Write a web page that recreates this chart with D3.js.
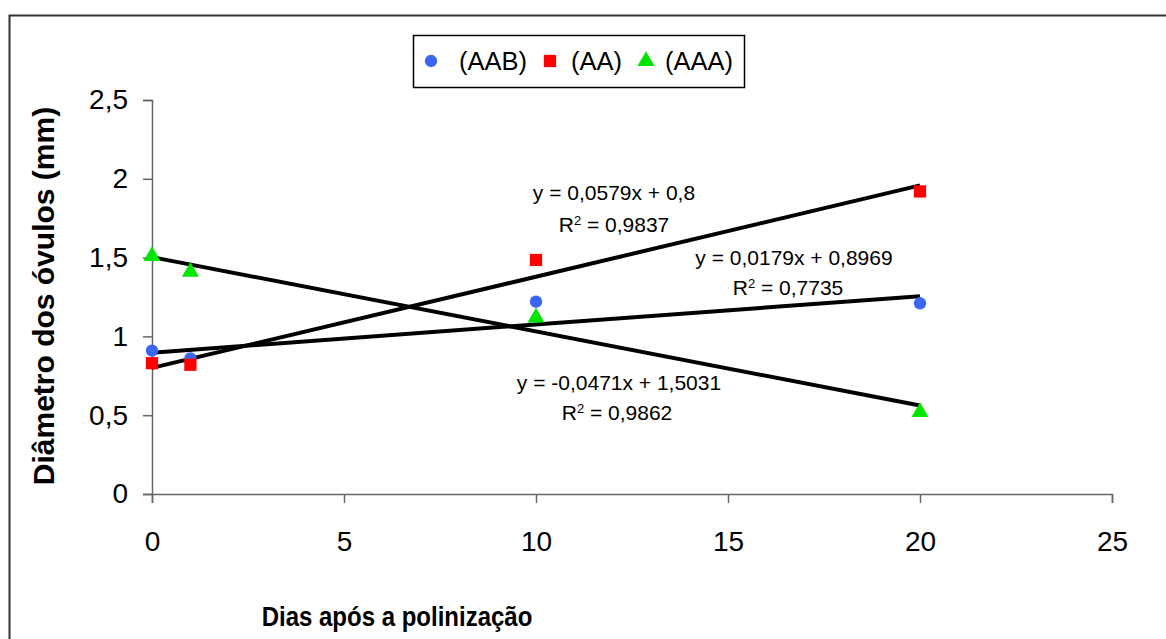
<!DOCTYPE html>
<html>
<head>
<meta charset="utf-8">
<script src="https://cdn.jsdelivr.net/npm/d3@7"></script>
<style>
  body { margin: 0; background: #fff; }
  svg { display: block; font-family: Arial, "Liberation Sans", sans-serif; }
</style>
</head>
<body>
<svg id="chart" width="1166" height="639"></svg>
<script>
"use strict";

// days after pollination
var days = [0, 1, 10, 20];
// ovule diameter (mm) per genome group
var aab = [0.91, 0.86, 1.22, 1.21];
var aa = [0.83, 0.82, 1.485, 1.92];
var aaa = [1.51, 1.41, 1.12, 0.52];

var seriesNames = ["(AAB)", "(AA)", "(AAA)"];
// linear trend: slope, intercept, r2 text
var trendSlope = [0.0179, 0.0579, -0.0471];
var trendIntercept = [0.8969, 0.8, 1.5031];
var trendEq = ["y = 0,0179x + 0,8969", "y = 0,0579x + 0,8", "y = -0,0471x + 1,5031"];
var trendR2 = ["0,7735", "0,9837", "0,9862"];

var xTicks = [0, 5, 10, 15, 20, 25];
var yTicks = [0, 0.5, 1, 1.5, 2, 2.5];

var colors = ["#3a66f0", "#ff0000", "#00e600"];
var symbols = [d3.symbolCircle, d3.symbolSquare, d3.symbolTriangle];
var symSize = [120, 150, 125];

// where each equation label sits (pixel centre, baselines)
var eqPos = [
  { x: 794, y1: 265, x2: 788, y2: 295 },
  { x: 614, y1: 200, x2: 614, y2: 232 },
  { x: 619, y1: 390, x2: 617, y2: 420 }
];

var svg = d3.select("#chart");
var fmt = function (d) { return String(d).replace(".", ","); };

var x = d3.scaleLinear().domain([0, 25]).range([152, 1112]);
var y = d3.scaleLinear().domain([0, 2.5]).range([494, 100]);

// outer frame
svg.append("rect")
  .attr("x", 9.5).attr("y", 15.5)
  .attr("width", 1200).attr("height", 700)
  .attr("fill", "none").attr("stroke", "#333").attr("stroke-width", 2);

// axes
var yAxis = svg.append("g")
  .attr("transform", "translate(" + x(0) + ",0)")
  .call(d3.axisLeft(y).tickValues(yTicks).tickFormat(fmt).tickSize(9).tickPadding(15));
var xAxis = svg.append("g")
  .attr("transform", "translate(0," + y(0) + ")")
  .call(d3.axisBottom(x).tickValues(xTicks).tickFormat(fmt).tickSize(9).tickPadding(28));

[xAxis, yAxis].forEach(function (a) {
  a.select(".domain").attr("stroke", "#666").attr("stroke-width", 1.5);
  a.selectAll(".tick line").attr("stroke", "#666").attr("stroke-width", 1.5);
  a.selectAll(".tick text").attr("fill", "#000")
    .style("font-family", "Arial, 'Liberation Sans', sans-serif").style("font-size", "28px");
});
xAxis.selectAll(".tick text").attr("dy", "0.71em");

// trend lines
var series = [aab, aa, aaa];
series.forEach(function (vals, i) {
  var ends = [0, d3.max(days)];
  svg.append("line")
    .attr("x1", x(ends[0])).attr("y1", y(trendIntercept[i] + trendSlope[i] * ends[0]))
    .attr("x2", x(ends[1])).attr("y2", y(trendIntercept[i] + trendSlope[i] * ends[1]))
    .attr("stroke", "#000").attr("stroke-width", 4);
});

// markers (AAB first, then AA, then AAA)
series.forEach(function (vals, i) {
  svg.append("g").selectAll("path")
    .data(vals)
    .enter().append("path")
    .attr("transform", function (d, j) { return "translate(" + x(days[j]) + "," + y(d) + ")"; })
    .attr("d", d3.symbol().type(symbols[i]).size(symSize[i]))
    .attr("fill", colors[i]);
});

// equation labels
trendEq.forEach(function (eq, i) {
  var p = eqPos[i];
  svg.append("text")
    .attr("x", p.x).attr("y", p.y1)
    .attr("text-anchor", "middle")
    .style("font-size", "21px")
    .text(eq);
  var t = svg.append("text")
    .attr("x", p.x2).attr("y", p.y2)
    .attr("text-anchor", "middle")
    .style("font-size", "21px");
  t.append("tspan").text("R");
  t.append("tspan").attr("dy", -7).style("font-size", "13px").text("2");
  t.append("tspan").attr("dy", 7).text(" = " + trendR2[i]);
});

// legend
var legend = svg.append("g");
legend.append("rect")
  .attr("x", 413.5).attr("y", 35.5).attr("width", 331).attr("height", 52)
  .attr("fill", "#fff").attr("stroke", "#000").attr("stroke-width", 1.5);
var legSym = [431, 550, 646];
var legText = [459, 571, 665];
seriesNames.forEach(function (name, i) {
  legend.append("path")
    .attr("transform", "translate(" + legSym[i] + ",61)")
    .attr("d", d3.symbol().type(symbols[i]).size(symSize[i]))
    .attr("fill", colors[i]);
  legend.append("text")
    .attr("x", legText[i]).attr("y", 70)
    .style("font-size", "25.5px")
    .text(name);
});

// axis titles
svg.append("text")
  .attr("transform", "translate(397,626) scale(1,1.12)")
  .attr("text-anchor", "middle")
  .style("font-size", "24px").style("font-weight", "bold")
  .text("Dias após a polinização");
svg.append("text")
  .attr("transform", "translate(54,296) rotate(-90)")
  .attr("text-anchor", "middle")
  .style("font-size", "30px").style("font-weight", "bold")
  .text("Diâmetro dos óvulos (mm)");
</script>
</body>
</html>
